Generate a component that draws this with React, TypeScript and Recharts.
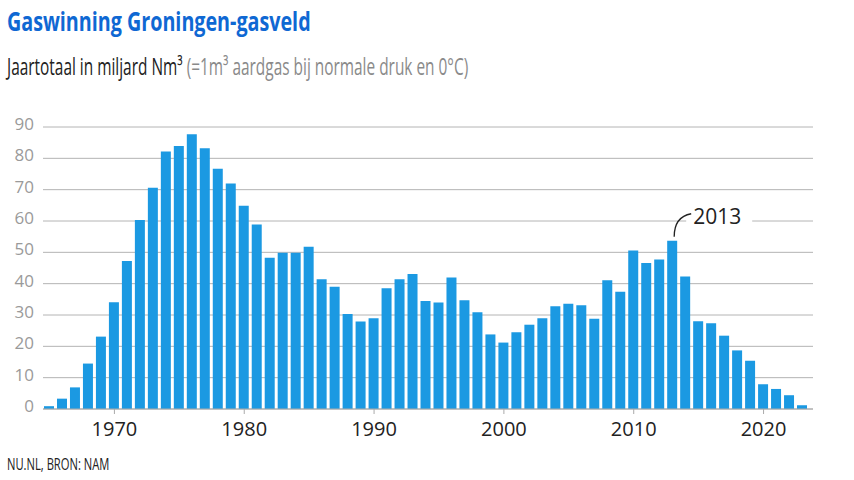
import { BarChart, Bar, XAxis, YAxis, CartesianGrid, LabelList } from 'recharts'

// Jaartotaal gaswinning Groningen (miljard Nm3)
const years = [
  1965, 1966, 1967, 1968, 1969, 1970, 1971, 1972, 1973, 1974,
  1975, 1976, 1977, 1978, 1979, 1980, 1981, 1982, 1983, 1984,
  1985, 1986, 1987, 1988, 1989, 1990, 1991, 1992, 1993, 1994,
  1995, 1996, 1997, 1998, 1999, 2000, 2001, 2002, 2003, 2004,
  2005, 2006, 2007, 2008, 2009, 2010, 2011, 2012, 2013, 2014,
  2015, 2016, 2017, 2018, 2019, 2020, 2021, 2022, 2023,
]
const volumes = [
  0.9, 3.3, 6.9, 14.5, 23.1, 34.1, 47.2, 60.3, 70.6, 82.2,
  83.9, 87.7, 83.2, 76.7, 72.0, 64.9, 58.9, 48.3, 49.9, 49.9,
  51.8, 41.4, 39.0, 30.3, 27.9, 29.0, 38.5, 41.4, 43.1, 34.5,
  34.0, 42.0, 34.7, 30.9, 23.8, 21.2, 24.5, 26.9, 29.0, 32.8,
  33.6, 33.1, 28.8, 41.1, 37.4, 50.6, 46.6, 47.7, 53.7, 42.3,
  28.0, 27.4, 23.4, 18.7, 15.4, 7.9, 6.4, 4.4, 1.2,
]
const yTicks = [0, 10, 20, 30, 40, 50, 60, 70, 80, 90]
const xLabelYears = [1970, 1980, 1990, 2000, 2010, 2020]
const annotatedYear = 2013

const data = years.map((year, i) => ({ year, volume: volumes[i] }))

const FONT = '"Open Sans", "Noto Sans", sans-serif'

const XTick = ({ x, y, payload }: any) => {
  if (!xLabelYears.includes(payload.value)) return null
  return (
    <g>
      <line x1={x} y1={y} x2={x} y2={y + 5} stroke="#aaaaaa" />
      <text x={x} y={y + 27} textAnchor="middle" fill="#222" fontSize={20} fontFamily={FONT}>
        {payload.value}
      </text>
    </g>
  )
}

const YTick = ({ x, y, payload }: any) => (
  <text x={x} y={y + 3} textAnchor="end" fill="#9a9a9a" fontSize={17} fontFamily={FONT}>
    {payload.value}
  </text>
)

const Annotation = (props: any) => {
  const { x, y, width, index } = props
  if (years[index] !== annotatedYear) return null
  const bx = x + width / 2 + 2
  const top = y - 4
  const tx = bx + 19
  return (
    <g>
      <rect x={tx - 7} y={top - 34} width={66} height={26} fill="#fff" />
      <path
        d={`M${bx},${top} C${bx},${top - 14} ${bx + 6},${top - 21} ${bx + 17},${top - 23}`}
        fill="none"
        stroke="#222"
        strokeWidth={1.3}
      />
      <text x={tx} y={top - 13} fill="#222" fontSize={21} fontFamily={FONT}>
        {annotatedYear}
      </text>
    </g>
  )
}

export default function App() {
  return (
    <div style={{ position: 'absolute', left: 0, top: 0, width: 854, height: 480, background: '#fff', fontFamily: FONT }}>
      <div style={{ position: 'absolute', left: 7, top: 2, fontSize: 27, fontWeight: 700, color: '#0f68d3', whiteSpace: 'nowrap', transform: 'scaleX(0.73)', transformOrigin: 'left' }}>
        Gaswinning Groningen-gasveld
      </div>
      <div style={{ position: 'absolute', left: 7, top: 50, fontSize: 23, color: '#222', whiteSpace: 'nowrap', transform: 'scaleX(0.67)', transformOrigin: 'left' }}>
        Jaartotaal in miljard Nm³ <span style={{ color: '#8a8a8a' }}>(=1m³ aardgas bij normale druk en 0°C)</span>
      </div>
      <div style={{ position: 'absolute', left: 7, top: 453, fontSize: 16, color: '#222', whiteSpace: 'nowrap', transform: 'scaleX(0.7)', transformOrigin: 'left' }}>
        NU.NL, BRON: NAM
      </div>
      <div style={{ position: 'absolute', left: 0, top: 0 }}>
        <BarChart width={854} height={480} data={data} barSize={10} margin={{ top: 127, right: 41, bottom: 41, left: 0 }}>
          <CartesianGrid vertical={false} stroke="#b4b4b4" />
          <XAxis
            dataKey="year"
            interval={0}
            height={30}
            tickSize={0}
            tickMargin={0}
            tickLine={false}
            axisLine={{ stroke: '#aaaaaa' }}
            padding={{ left: 0, right: 4 }}
            tick={<XTick />}
          />
          <YAxis
            width={43}
            domain={[0, 90]}
            ticks={yTicks}
            axisLine={false}
            tickLine={false}
            tickSize={0}
            tickMargin={9}
            tick={<YTick />}
          />
          <Bar dataKey="volume" fill="#1b99e2" isAnimationActive={false}>
            <LabelList dataKey="volume" content={<Annotation />} />
          </Bar>
        </BarChart>
      </div>
    </div>
  )
}
